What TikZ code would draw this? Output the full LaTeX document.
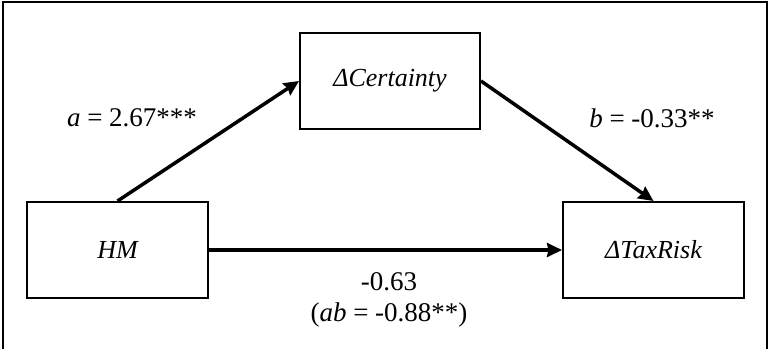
\documentclass[tikz,border=0pt]{standalone}
\usepackage{fontspec}
\setmainfont{Liberation Serif}
\usetikzlibrary{arrows.meta}
\tikzset{
  varbox/.style={draw=black, line width=2pt, minimum width=181pt, minimum height=96pt, inner sep=0pt, font=\fontsize{26}{30}\selectfont\itshape},
  conn/.style={line width=3.5pt, -{Stealth[length=15pt,width=14pt,inset=1.5pt]}},
  lbl/.style={inner sep=0pt, font=\fontsize{27}{31}\selectfont},
  frame/.style={line width=2pt}
}
\begin{document}
\begin{tikzpicture}[x=1pt,y=-1pt]
\useasboundingbox (0,0) rectangle (769,349);
\coordinate (fbl) at (2.5,349);
\coordinate (ftl) at (2.5,2);
\coordinate (ftr) at (766.5,2);
\coordinate (fbr) at (766.5,349);
\draw[frame] (fbl) -- (ftl) -- (ftr) -- (fbr);
\node[varbox, minimum width=180pt] (cert) at (390,81) {ΔCertainty};
\node[varbox] (hm) at (117.5,250) {HM};
\node[varbox] (tax) at (653.5,250) {ΔTaxRisk};
\draw[conn] (hm.north) -- (cert.west);
\draw[conn] (cert.east) -- (tax.north);
\draw[conn] (hm.east) -- (tax.west);
\node[lbl] (la) at (132,118) {\textit{a} = 2.67***};
\node[lbl] (lb) at (652,118) {\textit{b} = -0.33**};
\node[lbl] (lc) at (389,282) {-0.63};
\node[lbl] (lab) at (389,315) {(\textit{ab} = -0.88**)};
\end{tikzpicture}
\end{document}
